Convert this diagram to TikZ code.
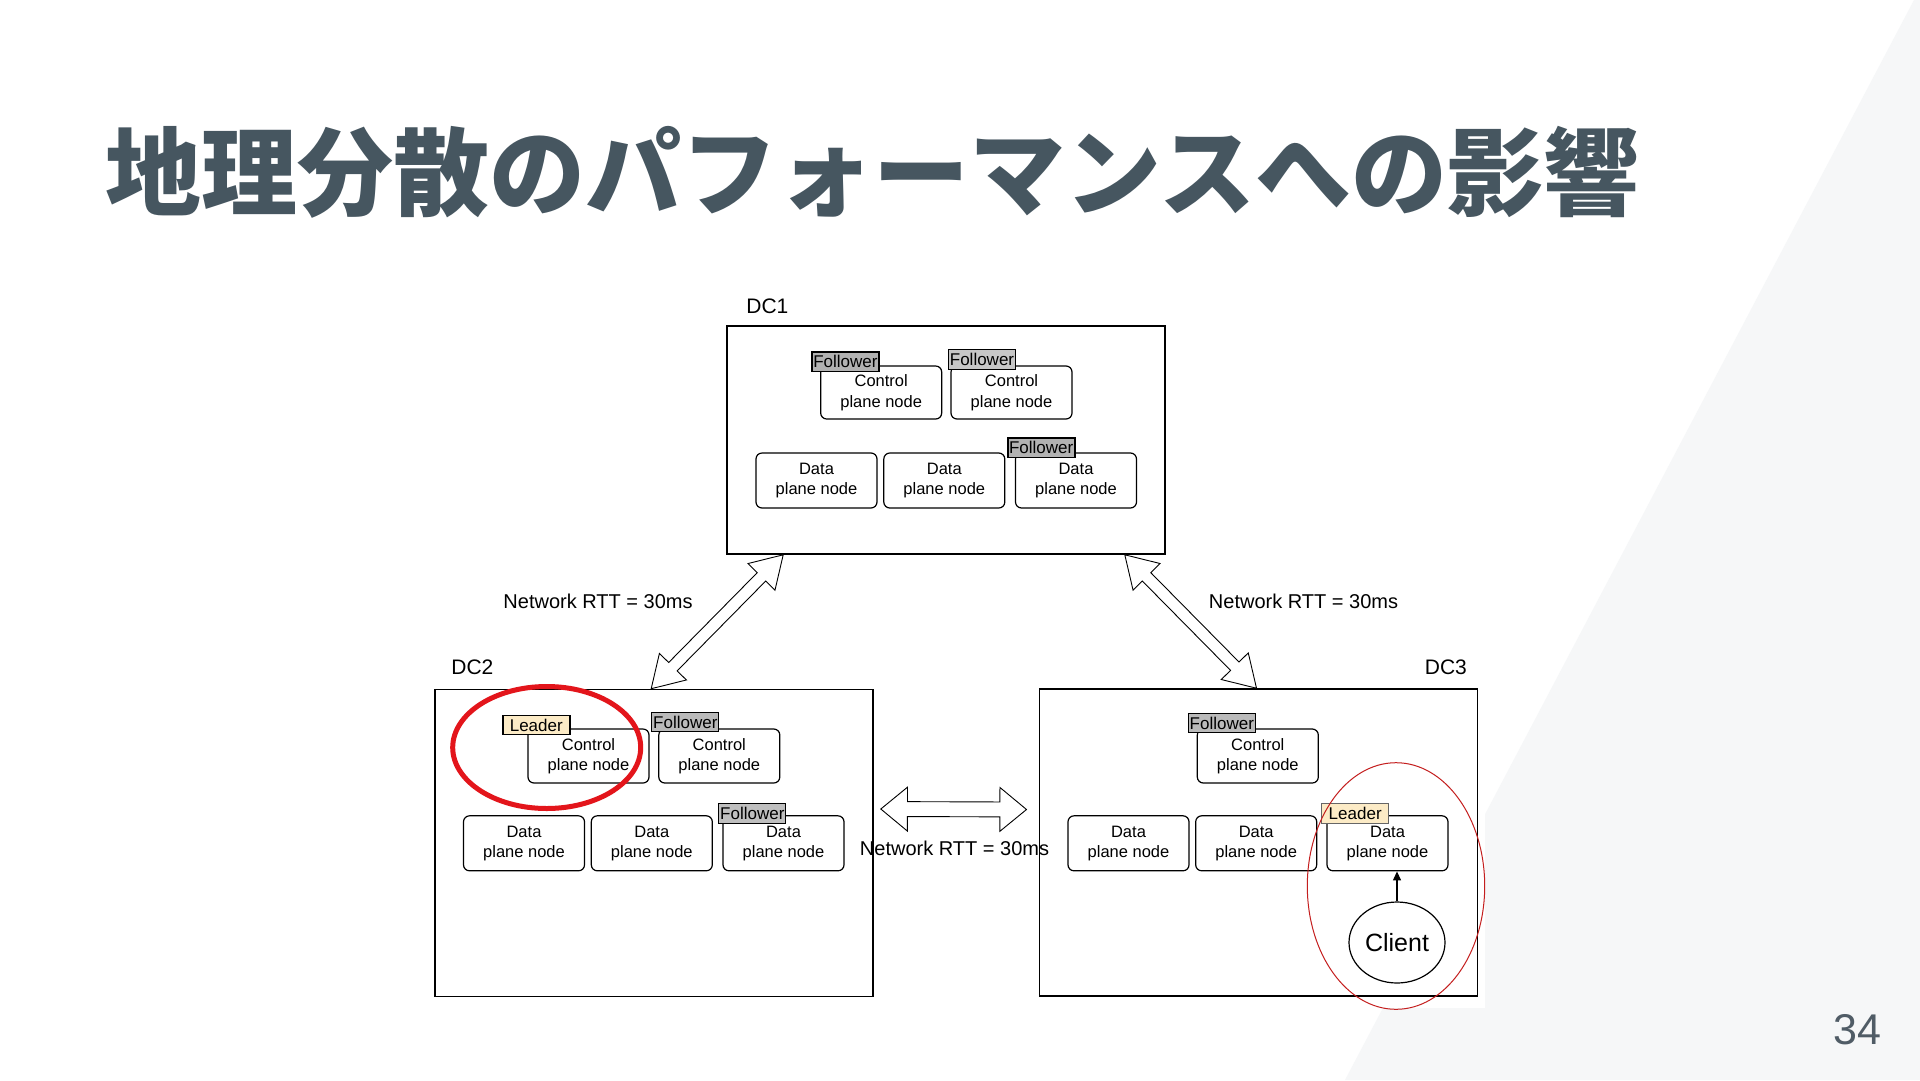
\documentclass[tikz,border=0pt]{standalone}
\usepackage{fontspec}
\setmainfont{Liberation Sans}
\newfontfamily\titlefont{Noto Sans CJK JP}
\usetikzlibrary{calc,shapes.arrows,shapes.geometric,arrows.meta}

\definecolor{titlegray}{HTML}{465660}
\definecolor{pagegray}{HTML}{505C66}
\definecolor{slidetint}{HTML}{F6F7F8}
\definecolor{leaderfill}{HTML}{FCEBC6}
\definecolor{ringred}{HTML}{E3151B}
\definecolor{thinred}{HTML}{C41E1E}

\tikzset{
  dcbox/.style={draw, line width=1.6pt, minimum width=438pt, inner sep=0pt},
  dclabel/.style={font=\fontsize{21}{24}\selectfont, inner sep=0pt},
  planenode/.style={draw, rounded corners=6pt, line width=1.2pt, minimum width=121pt,
    align=center, inner sep=0pt, font=\fontsize{16.5}{20.5}\selectfont},
  ctrlnode/.style={planenode, minimum height=53pt},
  datanode/.style={planenode, minimum height=55pt},
  roletag/.style={draw, anchor=south west, minimum width=67pt, minimum height=19.5pt,
    inner sep=0pt, font=\fontsize{17}{17}\selectfont},
  followertag/.style={roletag, fill=black!30},
  leadertag/.style={roletag, fill=leaderfill},
  nettext/.style={font=\fontsize{20}{24}\selectfont, inner sep=0pt},
  netarrow/.style={double arrow, draw, fill=white, line width=0.9pt, inner sep=0pt,
    minimum width=0pt, inner ysep=5.5pt, double arrow head extend=13pt,
    double arrow tip angle=63},
}

% hollow two-way arrow between two named points
\newcommand{\netlink}[3][]{%
  \path let \p1=($(#3)-(#2)$), \n1={atan2(\y1,\x1)}, \n2={veclen(\x1,\y1)} in
    node[netarrow, #1, minimum height=\n2, rotate=\n1] at ($(#2)!0.5!(#3)$) {};}

\begin{document}
\begin{tikzpicture}[x=1pt, y=-1pt]
\useasboundingbox (0,0) rectangle (1920,1080);
\fill[white] (0,0) rectangle (1920,1080);
\fill[slidetint] (1914,0) -- (1920,0) -- (1920,1080) -- (1345,1080) -- cycle;
\fill[white] (440,290) rectangle (1485,1008);

\node[anchor=base west, inner sep=0pt, text=titlegray,
  font=\titlefont\bfseries\fontsize{96}{96}\selectfont] (title) at (105,208)
  {地理分散のパフォーマンスへの影響};
\node[anchor=base east, inner sep=0pt, text=pagegray,
  font=\fontsize{43}{43}\selectfont] (pageno) at (1882,1044) {34};

% data centres
\node[dcbox, minimum height=228pt] (dc1) at (946,440) {};
\node[dcbox, minimum height=307pt] (dc2) at (654,843) {};
\node[dcbox, minimum height=307pt] (dc3) at (1258.3,842.5) {};
\node[dclabel, anchor=base west] (dc1name) at ([shift={(20,-12)}]dc1.north west) {DC1};
\node[dclabel, anchor=base west] (dc2name) at ([shift={(17,-14)}]dc2.north west) {DC2};
\node[dclabel, anchor=base east] (dc3name) at ([shift={(-11,-14)}]dc3.north east) {DC3};

% DC1
\node[ctrlnode] (c11) at (881.2,392.5) {Control\\plane node};
\node[ctrlnode] (c12) at (1011.5,392.5) {Control\\plane node};
\node[datanode] (d11) at (816.5,480.5) {Data\\plane node};
\node[datanode] (d12) at (944.3,480.5) {Data\\plane node};
\node[datanode] (d13) at (1076,480.5) {Data\\plane node};
\node[followertag, line width=1.6pt] (t11) at ([shift={(-9,7)}]c11.north west) {Follower};
\node[followertag, line width=0.8pt, fill=black!22] (t12) at ([shift={(-2.3,4)}]c12.north west) {Follower};
\node[followertag, line width=1.6pt] (t13) at ([shift={(-8,6)}]d13.north west) {Follower};

% DC2
\node[ctrlnode, minimum height=54pt] (c21) at (588.5,756) {Control\\plane node};
\node[ctrlnode, minimum height=54pt] (c22) at (719.3,756) {Control\\plane node};
\node[datanode] (d21) at (524,843.3) {Data\\plane node};
\node[datanode] (d22) at (651.8,843.3) {Data\\plane node};
\node[datanode] (d23) at (783.5,843.3) {Data\\plane node};
\node[leadertag, line width=1.4pt] (t21) at ([shift={(-25.3,7)}]c21.north west) {Leader};
\node[followertag, line width=1.2pt, fill=black!27] (t22) at ([shift={(-7,4)}]c22.north west) {Follower};
\node[followertag, line width=0.8pt, fill=black!25] (t23) at ([shift={(-4,8.3)}]d23.north west) {Follower};

% DC3
\node[ctrlnode, minimum height=54pt] (c31) at (1257.8,756) {Control\\plane node};
\node[datanode] (d31) at (1128.5,843.3) {Data\\plane node};
\node[datanode] (d32) at (1256.2,843.3) {Data\\plane node};
\node[datanode] (d33) at (1387.5,843.3) {Data\\plane node};
\node[followertag, line width=1.2pt, fill=black!27] (t31) at ([shift={(-9,5)}]c31.north west) {Follower};
\node[leadertag, line width=0.6pt, draw=black!60] (t33) at ([shift={(-5,8)}]d33.north west) {Leader};
\node[draw, ellipse, line width=1.2pt, minimum width=96pt, minimum height=81pt, inner sep=0pt,
  font=\fontsize{25}{25}\selectfont] (client) at (1397,942.5) {Client};
\draw[line width=1.2pt, -{Triangle[length=9pt, width=8pt]}] (client.north) -- (client.north |- d33.south);

% links between data centres
\coordinate (l12a) at ([xshift=57]dc1.south west);
\coordinate (l12b) at ([xshift=217]dc2.north west);
\coordinate (l13a) at ([xshift=-41]dc1.south east);
\coordinate (l13b) at ([xshift=218]dc3.north west);
\coordinate (l23a) at ([shift={(7,-34)}]dc2.east);
\coordinate (l23b) at ([shift={(-12,-33)}]dc3.west);
\netlink{l12a}{l12b}
\netlink{l13a}{l13b}
\netlink[inner ysep=7pt, double arrow head extend=14.5pt, double arrow tip angle=79]{l23a}{l23b}
\node[nettext] (rtt12) at (598,601) {Network RTT = 30ms};
\node[nettext] (rtt13) at (1303.5,601) {Network RTT = 30ms};
\node[nettext] (rtt23) at (954.5,848.6) {Network RTT = 30ms};

% highlights
\draw[ringred, line width=5pt] (546.7,747.5) ellipse [x radius=94, y radius=61];
\draw[thinred, line width=1pt] (1396,886) ellipse [x radius=88.7, y radius=123.3];
\end{tikzpicture}
\end{document}
